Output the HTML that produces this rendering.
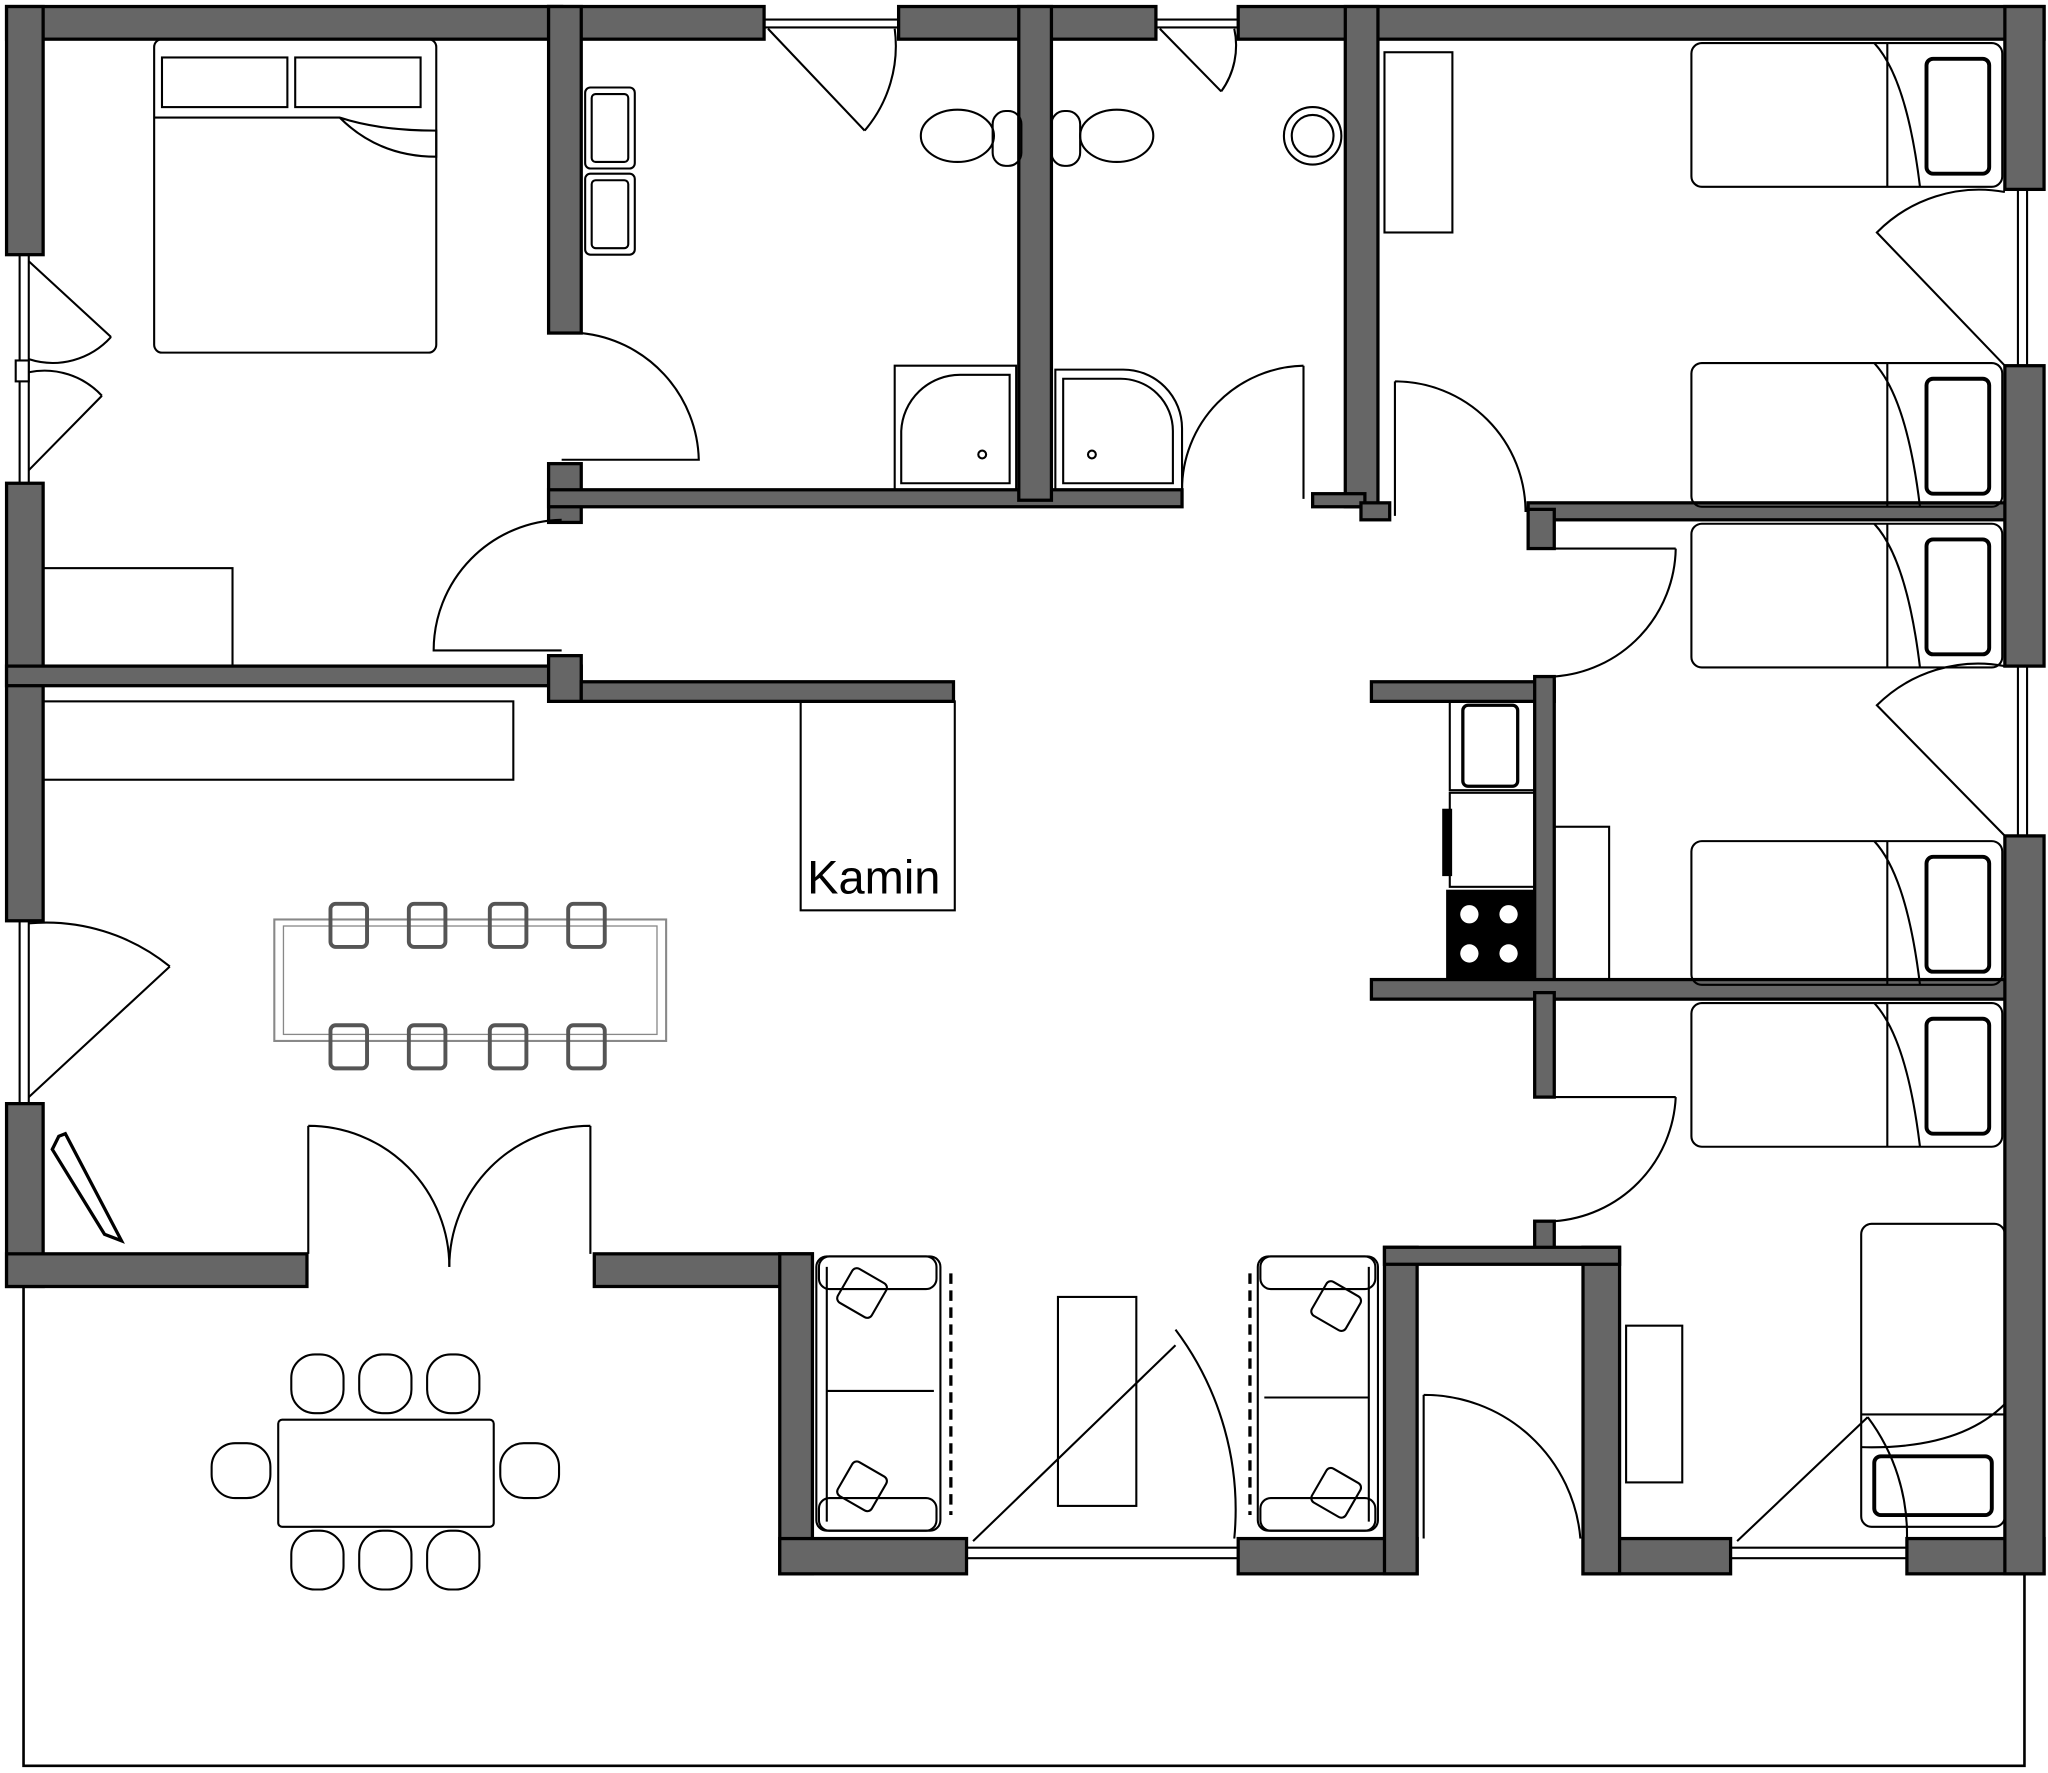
<!DOCTYPE html>
<html><head><style>html,body{margin:0;padding:0;background:#fff}svg{display:block}</style></head>
<body>
<svg width="2048" height="1773" viewBox="0 0 1568 1357.5" xmlns="http://www.w3.org/2000/svg">
<rect width="1568" height="1358" fill="#fff"/>
<!-- terrace -->
<path d="M18 985 L18 1352 L1550 1352 L1550 1205" fill="none" stroke="#000" stroke-width="2"/>
<g fill="#666" stroke="#000" stroke-width="2.5">
<rect x="5" y="5" width="425" height="25"/>
<rect x="420" y="5" width="165" height="25"/>
<rect x="688" y="5" width="197" height="25"/>
<rect x="948" y="5" width="617" height="25"/>
<rect x="5" y="5" width="28" height="190"/>
<rect x="5" y="370" width="28" height="335"/>
<rect x="5" y="845" width="28" height="140"/>
<rect x="5" y="960" width="230" height="25"/>
<rect x="455" y="960" width="167" height="25"/>
<rect x="597" y="960" width="25" height="245"/>
<rect x="597" y="1178" width="143" height="27"/>
<rect x="948" y="1178" width="137" height="27"/>
<rect x="1060" y="955" width="25" height="250"/>
<rect x="1212" y="1178" width="113" height="27"/>
<rect x="1212" y="955" width="28" height="250"/>
<rect x="1460" y="1178" width="105" height="27"/>
<rect x="1535" y="5" width="30" height="140"/>
<rect x="1535" y="280" width="30" height="230"/>
<rect x="1535" y="640" width="30" height="565"/>
<rect x="420" y="5" width="25" height="250"/>
<rect x="420" y="355" width="25" height="45"/>
<rect x="420" y="375" width="485" height="13"/>
<rect x="780" y="5" width="25" height="378"/>
<rect x="1030" y="5" width="25" height="383"/>
<rect x="1005" y="378" width="40" height="10"/>
<rect x="1042" y="385" width="22" height="13"/>
<rect x="5" y="510" width="440" height="15"/>
<rect x="420" y="502" width="25" height="35"/>
<rect x="445" y="522" width="285" height="15"/>
<rect x="1170" y="385" width="365" height="13"/>
<rect x="1170" y="390" width="20" height="30"/>
<rect x="1050" y="522" width="140" height="15"/>
<rect x="1175" y="518" width="15" height="247"/>
<rect x="1050" y="750" width="485" height="15"/>
<rect x="1175" y="760" width="15" height="80"/>
<rect x="1175" y="935" width="15" height="25"/>
<rect x="1060" y="955" width="180" height="13"/>
</g>
<g fill="none" stroke="#000" stroke-width="1.6">
<line x1="15" y1="195" x2="15" y2="370"/><line x1="22" y1="195" x2="22" y2="370"/>
<rect x="12" y="276" width="10" height="16" fill="#fff"/>
<line x1="15" y1="705" x2="15" y2="845"/><line x1="22" y1="705" x2="22" y2="845"/>
<line x1="1545" y1="145" x2="1545" y2="280"/><line x1="1552" y1="145" x2="1552" y2="280"/>
<line x1="1545" y1="510" x2="1545" y2="640"/><line x1="1552" y1="510" x2="1552" y2="640"/>
<line x1="585" y1="15" x2="688" y2="15"/><line x1="585" y1="21" x2="688" y2="21"/>
<line x1="885" y1="15" x2="948" y2="15"/><line x1="885" y1="21" x2="948" y2="21"/>
<line x1="740" y1="1185" x2="948" y2="1185"/><line x1="740" y1="1193" x2="948" y2="1193"/>
<line x1="1325" y1="1185" x2="1460" y2="1185"/><line x1="1325" y1="1193" x2="1460" y2="1193"/>
<path d="M22 200 L85 258 M85 258 A60 60 0 0 1 22 275"/>
<path d="M22 360 L78 303 M78 303 A60 60 0 0 0 22 285"/>
<path d="M22 840 L130 740 M130 740 A150 150 0 0 0 22 707"/>
<path d="M588 22 L662 100 M662 100 A100 100 0 0 0 685 22"/>
<path d="M888 22 L935 70 M935 70 A60 60 0 0 0 945 22"/>
<path d="M445 255 A100 100 0 0 1 535 352 L430 352"/>
<path d="M430 398 A100 100 0 0 0 332 498 L430 498"/>
<path d="M998 280 L998 382 M998 280 A95 95 0 0 0 905 375"/>
<path d="M1068 292 L1068 395 M1068 292 A100 100 0 0 1 1168 392"/>
<path d="M1190 420 L1283 420 M1283 420 A100 100 0 0 1 1190 518"/>
<path d="M1190 840 L1283 840 M1283 840 A100 100 0 0 1 1190 935"/>
<path d="M1535 147 A110 110 0 0 0 1437 178 L1535 280"/>
<path d="M1535 510 A110 110 0 0 0 1437 540 L1535 640"/>
<path d="M236 862 L236 960 M236 862 A108 108 0 0 1 344 970"/>
<path d="M452 862 L452 960 M452 862 A108 108 0 0 0 344 970"/>
<path d="M745 1180 L900 1030 M900 1018 A230 230 0 0 1 945 1178"/>
<path d="M1090 1068 L1090 1178 M1090 1068 A120 120 0 0 1 1210 1178"/>
<path d="M1330 1180 L1430 1085 M1430 1085 A150 150 0 0 1 1460 1180"/>
<rect x="118" y="30" width="216" height="240" rx="6"/>
<rect x="124" y="44" width="96" height="38"/><rect x="226" y="44" width="96" height="38"/>
<path d="M118 90 L260 90 Q290 120 334 120 L334 100 Q290 100 260 90"/>
<rect x="33" y="435" width="145" height="75"/>
<rect x="33" y="537" width="360" height="60"/>
<rect x="448" y="67" width="38" height="62" rx="4"/><rect x="453" y="72" width="28" height="52" rx="3"/>
<rect x="448" y="133" width="38" height="62" rx="4"/><rect x="453" y="138" width="28" height="52" rx="3"/>
<ellipse cx="733" cy="104" rx="28" ry="20"/><rect x="760" y="85" width="22" height="42" rx="10"/>
<ellipse cx="855" cy="104" rx="28" ry="20"/><rect x="805" y="85" width="22" height="42" rx="10"/>
<path d="M685 375 L685 280 L778 280 L778 375 Z"/>
<path d="M690 370 L690 330 A45 45 0 0 1 735 287 L773 287 L773 370 Z"/>
<circle cx="752" cy="348" r="3"/>
<path d="M808 375 L808 283 L860 283 A45 45 0 0 1 905 328 L905 375 Z"/>
<path d="M814 370 L814 290 L857 290 A40 40 0 0 1 898 330 L898 370 Z"/>
<circle cx="836" cy="348" r="3"/>
<circle cx="1005" cy="104" r="22"/><circle cx="1005" cy="104" r="16"/>
<rect x="1060" y="40" width="52" height="138"/>
<g id="b"><rect x="1295" y="33" width="238" height="110" rx="8"/><path d="M1445 33 L1445 143 M1435 33 Q1460 60 1470 143"/><rect x="1475" y="45" width="48" height="88" rx="5" stroke-width="3"/></g>
<use href="#b" y="245"/><use href="#b" y="368"/><use href="#b" y="611"/><use href="#b" y="735"/>
<rect x="1425" y="937" width="110" height="232" rx="8"/>
<path d="M1425 1083 L1535 1083 M1425 1108 Q1500 1110 1535 1075"/>
<rect x="1435" y="1115" width="90" height="45" rx="5" stroke-width="3"/>
<rect x="1245" y="1015" width="43" height="120"/>
<rect x="1190" y="633" width="42" height="117"/>
<rect x="1110" y="537" width="65" height="68"/><rect x="1120" y="540" width="42" height="62" rx="4" stroke-width="2.5"/>
<rect x="1110" y="607" width="65" height="72"/>
<rect x="1105" y="620" width="6" height="50" fill="#000"/>
<rect x="1108" y="682" width="66" height="68" fill="#000"/>
<g fill="#fff" stroke="none"><circle cx="1125" cy="700" r="7"/><circle cx="1155" cy="700" r="7"/><circle cx="1125" cy="730" r="7"/><circle cx="1155" cy="730" r="7"/></g>
<rect x="613" y="537" width="118" height="160"/>
<rect x="210" y="704" width="300" height="93" stroke="#888"/>
<rect x="217" y="709" width="286" height="83" stroke="#888" stroke-width="1"/>
<g stroke="#555" stroke-width="3">
<rect x="253" y="692" width="28" height="33" rx="4"/><rect x="313" y="692" width="28" height="33" rx="4"/><rect x="375" y="692" width="28" height="33" rx="4"/><rect x="435" y="692" width="28" height="33" rx="4"/>
<rect x="253" y="785" width="28" height="33" rx="4"/><rect x="313" y="785" width="28" height="33" rx="4"/><rect x="375" y="785" width="28" height="33" rx="4"/><rect x="435" y="785" width="28" height="33" rx="4"/>
</g>
<path d="M45 870 L40 880 L80 945 L93 950 L50 868 Z" stroke-width="2.5"/>
<!-- sofas -->
<rect x="625" y="962" width="95" height="210" rx="8"/>
<line x1="633" y1="970" x2="633" y2="1165"/><line x1="633" y1="1065" x2="715" y2="1065"/>
<rect x="627" y="962" width="90" height="25" rx="8"/><rect x="627" y="1147" width="90" height="25" rx="8"/>
<line x1="728" y1="975" x2="728" y2="1160" stroke-dasharray="8,5" stroke-width="2.5"/>
<rect x="645" y="975" width="30" height="30" rx="4" transform="rotate(30 660 990)"/>
<rect x="645" y="1123" width="30" height="30" rx="4" transform="rotate(30 660 1138)"/>
<rect x="963" y="962" width="92" height="210" rx="8"/>
<line x1="1048" y1="970" x2="1048" y2="1165"/><line x1="968" y1="1070" x2="1048" y2="1070"/>
<rect x="965" y="962" width="88" height="25" rx="8"/><rect x="965" y="1147" width="88" height="25" rx="8"/>
<line x1="957" y1="975" x2="957" y2="1160" stroke-dasharray="8,5" stroke-width="2.5"/>
<rect x="1008" y="985" width="30" height="30" rx="4" transform="rotate(30 1023 1000)"/>
<rect x="1008" y="1128" width="30" height="30" rx="4" transform="rotate(30 1023 1143)"/>
<rect x="810" y="993" width="60" height="160"/>
<rect x="213" y="1087" width="165" height="82" rx="3"/>
<g><rect x="223" y="1037" width="40" height="45" rx="18"/><rect x="275" y="1037" width="40" height="45" rx="18"/><rect x="327" y="1037" width="40" height="45" rx="18"/>
<rect x="223" y="1172" width="40" height="45" rx="18"/><rect x="275" y="1172" width="40" height="45" rx="18"/><rect x="327" y="1172" width="40" height="45" rx="18"/>
<rect x="162" y="1105" width="45" height="42" rx="18"/><rect x="383" y="1105" width="45" height="42" rx="18"/></g>
</g>
<text x="618" y="684" font-family="Liberation Sans, sans-serif" font-size="36">Kamin</text>
</svg>
</body></html>
